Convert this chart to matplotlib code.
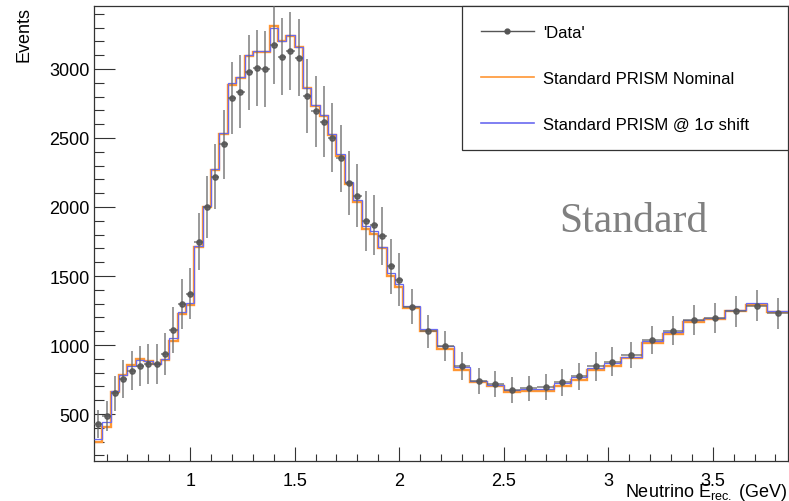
import numpy as np
import matplotlib
matplotlib.use("Agg")
import matplotlib.pyplot as plt
from matplotlib.lines import Line2D
from matplotlib.ticker import FixedLocator, MultipleLocator, FixedFormatter

plt.rcParams['font.family'] = ['Liberation Sans', 'DejaVu Sans']
plt.rcParams['mathtext.fontset'] = 'custom'
plt.rcParams['mathtext.rm'] = 'Liberation Sans'
plt.rcParams['mathtext.it'] = 'Liberation Sans:italic'

# ---- binning (GeV): 0.04 GeV bins, then 0.08 GeV, then 0.1 GeV ----
edges_a = np.linspace(0.54, 2.02, 38)
edges_b = np.linspace(2.02, 3.06, 14)[1:]
edges_c = np.linspace(3.06, 3.86, 9)[1:]
bin_edges = np.concatenate([edges_a, edges_b, edges_c])

# ---- 'Data' (events) ----
data_values = [
    428, 488, 650, 754, 815, 846, 862, 862, 935, 1111, 1297, 1370,
    1749, 1998, 2220, 2454, 2790, 2836, 2976, 3007, 3002, 3176, 3089, 3130,
    3082, 2804, 2693, 2618, 2500, 2353, 2176, 2080, 1896, 1870, 1790, 1570, 1473,
    1278, 1099, 993, 850, 741, 717, 674, 686, 694, 730, 773, 846, 880,
    928, 1036, 1104, 1181, 1193, 1244, 1285, 1230,
]
data_errors = [
    103, 110, 127, 137, 143, 145, 147, 147, 153, 167, 180, 185,
    209, 223, 236, 248, 264, 266, 273, 274, 274, 282, 278, 280,
    278, 265, 259, 256, 250, 243, 233, 228, 218, 216, 212, 198, 192,
    127, 117, 112, 103, 96, 95, 92, 93, 93, 96, 98, 103, 105,
    96, 102, 105, 109, 109, 111, 113, 111,
]

# ---- Standard PRISM Nominal ----
nominal_values = [
    300, 404, 657, 783, 855, 899, 886, 862, 894, 1027, 1225, 1290,
    1708, 1998, 2270, 2529, 2884, 2937, 3092, 3121, 3126, 3314, 3200, 3237,
    3157, 2860, 2730, 2657, 2522, 2367, 2167, 2034, 1841, 1802, 1700, 1498, 1418,
    1266, 1099, 971, 821, 730, 701, 662, 665, 668, 706, 747, 817, 851,
    906, 1012, 1080, 1170, 1185, 1244, 1287, 1239,
]

# ---- Standard PRISM @ 1 sigma shift ----
shift_values = [
    319, 444, 664, 783, 851, 895, 882, 865, 898, 1049, 1242, 1304,
    1720, 2005, 2275, 2535, 2895, 2945, 3100, 3127, 3130, 3300, 3205, 3245,
    3160, 2862, 2740, 2667, 2532, 2384, 2184, 2053, 1860, 1829, 1713, 1522, 1442,
    1280, 1116, 990, 843, 742, 713, 674, 681, 680, 723, 766, 833, 868,
    915, 1027, 1094, 1181, 1195, 1251, 1302, 1247,
]

x_major = [1.0, 1.5, 2.0, 2.5, 3.0, 3.5]
x_tick_labels = ['1', '1.5', '2', '2.5', '3', '3.5']
y_major = [500, 1000, 1500, 2000, 2500, 3000]
y_tick_labels = ['500', '1000', '1500', '2000', '2500', '3000']

series_labels = ["'Data'", "Standard PRISM Nominal", "Standard PRISM @ 1\u03c3 shift"]

# ---- figure ----
W, H = 789, 502
fig = plt.figure(figsize=(W / 100, H / 100), dpi=100)
ax = fig.add_axes([94 / W, 1 - 461.7 / H, (788 - 94) / W, (461.7 - 7.3) / H])

orange = '#ff9633'
blue = '#6a6af0'
gray = '#555555'
egray = '#666666'

centers = 0.5 * (bin_edges[:-1] + bin_edges[1:])
half_w = 0.5 * np.diff(bin_edges)

ax.stairs(nominal_values, bin_edges, color=orange, lw=1.7, baseline=None, zorder=2)
ax.stairs(shift_values, bin_edges, color=blue, lw=0.9, baseline=None, zorder=3)
ax.errorbar(centers, data_values, yerr=data_errors, xerr=half_w, fmt='o',
            color=gray, ecolor=egray, elinewidth=1.1, capsize=0, markersize=3.8,
            alpha=0.85, zorder=4)

ax.set_xlim(0.54, 3.86)
ax.set_ylim(162, 3454)

ax.xaxis.set_major_locator(FixedLocator(x_major))
ax.xaxis.set_major_formatter(FixedFormatter(x_tick_labels))
ax.xaxis.set_minor_locator(MultipleLocator(0.1))
ax.yaxis.set_major_locator(FixedLocator(y_major))
ax.yaxis.set_major_formatter(FixedFormatter(y_tick_labels))
ax.yaxis.set_minor_locator(MultipleLocator(100))

ax.tick_params(axis='both', which='both', direction='in', colors='#333333',
               labelcolor='black', width=0.8, labelsize=13)
ax.tick_params(axis='x', which='major', length=9.8, pad=8.3)
ax.tick_params(axis='x', which='minor', length=4.9)
ax.tick_params(axis='y', which='major', length=15, pad=3)
ax.tick_params(axis='y', which='minor', length=7.5)

for s in ax.spines.values():
    s.set_color('#333333')
    s.set_linewidth(0.9)

ax.set_xlabel(r'Neutrino E$_{\mathrm{rec.}}$ (GeV)', loc='right', fontsize=13, labelpad=-6)
ax.set_ylabel('Events', loc='top', fontsize=13, labelpad=12)

ax.text(0.777, 0.527, 'Standard', transform=ax.transAxes, fontsize=30,
        family='Liberation Serif', color='#808080', ha='center', va='center')

handles = [
    Line2D([], [], color=gray, marker='o', markersize=3.5, lw=1.0),
    Line2D([], [], color=orange, lw=1.2),
    Line2D([], [], color=blue, lw=1.2),
]
leg = ax.legend(handles, series_labels, loc='upper left',
                bbox_to_anchor=(0.5305, 0.0, 0.4695, 1.0), mode='expand',
                borderaxespad=0, fancybox=False, framealpha=1, edgecolor='#333333',
                fontsize=12, borderpad=1.1, labelspacing=1.86, handlelength=3.2,
                handletextpad=0.55, numpoints=1)
leg.get_frame().set_linewidth(0.9)

fig.savefig('out.png', dpi=100)
